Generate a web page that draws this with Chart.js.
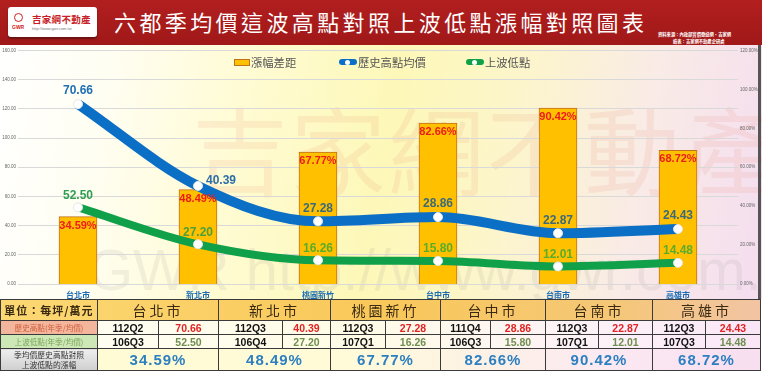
<!DOCTYPE html>
<html>
<head>
<meta charset="utf-8">
<script src="https://cdn.jsdelivr.net/npm/chart.js@4.4.1/dist/chart.umd.min.js"></script>
<style>
  body { margin: 0; width: 762px; height: 372px; overflow: hidden; background: #fff; position: relative;
         font-family: "Noto Sans CJK TC", "Noto Sans", sans-serif; }
  .header { position: absolute; left: 0; top: 0; width: 762px; height: 45px;
            background: linear-gradient(#b21f1f, #a01818); }
  .logo { position: absolute; left: 8px; top: 7px; width: 89px; height: 30px; background: #fff;
          border-radius: 3px; box-shadow: 0 2px 2px rgba(0,0,0,0.35); }
  .logo .icon { position: absolute; left: 6px; top: 6px; width: 9px; height: 9px; border-radius: 50%;
                border: 1.5px solid #d02020; box-sizing: border-box; }
  .logo .gwr { position: absolute; left: 4px; top: 17px; font: bold 5px "Liberation Sans", sans-serif; color: #d02020; }
  .logo .name { position: absolute; left: 24px; top: 5px; font-size: 9.5px; font-weight: bold; color: #c81e28; letter-spacing: 0.3px; }
  .logo .url { position: absolute; left: 24px; top: 19px; font: 4px "Liberation Sans", sans-serif; color: #777; }
  .title { position: absolute; left: 114px; top: 6px; font-size: 22px; line-height: 30px; color: #fff;
           letter-spacing: 3.4px; white-space: nowrap; }
  .credit { position: absolute; color: #fff; font-size: 4.3px; font-weight: bold; white-space: nowrap; line-height: 5px; }
  .plot { position: absolute; left: 0; top: 45px; width: 762px; height: 254px;
          background: linear-gradient(100deg, #ffffff 0%, #fffef2 14%, #fffbd2 32%, #fdf8b8 50%, #fcf5cc 66%, #f9ebe6 82%, #f4ddf0 100%); }
  .wm { position: absolute; white-space: nowrap; }
  .wm1 { left: 192px; top: 92px; font-size: 96px; line-height: 110px; color: rgba(222, 110, 80, 0.10); letter-spacing: 2px; }
  .wm2 { left: 88px; top: 236px; font: 58px "Liberation Sans", sans-serif; color: rgba(140, 140, 140, 0.12); }
  canvas { position: absolute; left: 0; top: 45px; }
  .legend { position: absolute; top: 55px; left: 0; width: 762px; height: 14px; font-size: 11.3px; color: #555; }
  .legend span { position: absolute; top: 0; line-height: 14px; white-space: nowrap; }
  .legend .box { position: absolute; top: 4px; width: 14px; height: 5px; background: #ffc000; border: 1px solid #c0721c; }
  .legend .ln { position: absolute; top: 4px; height: 6px; border-radius: 3px; }
  .legend .dot { position: absolute; top: 0.5px; left: 6px; width: 5px; height: 5px; border-radius: 50%; background: #fff; }
  .edge { position: absolute; left: 758px; top: 45px; width: 3px; height: 254px; background: #555; }
  table { position: absolute; left: 0; top: 299px; width: 760px; border-collapse: collapse; table-layout: fixed; }
  td { border: 1px solid #3a3a3a; padding: 0; text-align: center; overflow: hidden; white-space: nowrap; }
  tr.head { height: 19px; background: linear-gradient(90deg, #fcd873, #f9c85a 50%, #f5c776 80%, #f2c4a4); }
  tr.head td { font-size: 14px; letter-spacing: 3px; color: #3b2a12; }
  tr.head td.unit { font-size: 11px; letter-spacing: 1px; font-weight: bold; }
  tr.hi, tr.lo { height: 14px; background: linear-gradient(90deg, #fffef5, #fffce6 45%, #fdf1f8 80%, #fae6f6); }
  tr.hi td, tr.lo td { font: bold 10.5px "Liberation Sans", Arial, sans-serif; color: #111; line-height: 12px; }
  tr.hi td.lab { background: #f3b59c; color: #cf5f3c; font: 7.6px "Noto Sans CJK TC", sans-serif; }
  tr.lo td.lab { background: #cde7b6; color: #7aa65c; font: 7.6px "Noto Sans CJK TC", sans-serif; }
  tr.hi td.v { color: #e02424; }
  tr.lo td.v { color: #6f8f50; }
  tr.pct { height: 22px; background: linear-gradient(90deg, #fffbd2, #fffbd8 45%, #fbe9f2 80%, #f8def0); }
  tr.pct td { font: bold 15px "Liberation Sans", Arial, sans-serif; color: #2c7fc0; letter-spacing: 1px; }
  tr.pct td.lab { background: linear-gradient(#eeeeee, #cfcfcf); color: #333; font: 7.8px "Noto Sans CJK TC", sans-serif;
                  line-height: 10px; white-space: normal; letter-spacing: 0; }
</style>
</head>
<body>
<div class="header">
  <div class="logo">
    <div class="icon"></div><div class="gwr">GWR</div>
    <div class="name">吉家網不動產</div>
    <div class="url">http://www.gwr.com.tw</div>
  </div>
  <div class="title">六都季均價這波高點對照上波低點漲幅對照圖表</div>
  <div class="credit" style="left:658px; top:32px;">資料來源：內政部實價登錄網、吉家網</div>
  <div class="credit" style="left:673px; top:39px;">繪表：吉家網不動產企研處</div>
</div>
<div class="plot"></div>
<div class="wm wm1">吉家網不動產</div>
<div class="wm wm2">GWR http://www.gwr.com.tw</div>
<canvas id="chart" width="762" height="255"></canvas>
<div class="legend">
  <div class="box" style="left:234px;"></div><span style="left:251px;">漲幅差距</span>
  <div class="ln" style="left:339px; width:18px; background:#0b6fc5;"><div class="dot"></div></div><span style="left:358px;">歷史高點均價</span>
  <div class="ln" style="left:466px; width:18px; background:#10a04a;"><div class="dot"></div></div><span style="left:485px;">上波低點</span>
</div>
<div class="edge"></div>
<table id="summary"></table>

<script>
// 六都資料（萬元/坪）
const cities = ['台北市', '新北市', '桃園新竹', '台中市', '台南市', '高雄市'];
const highPrice = [70.66, 40.39, 27.28, 28.86, 22.87, 24.43];
const lowPrice = [52.50, 27.20, 16.26, 15.80, 12.01, 14.48];
const riseRate = [34.59, 48.49, 67.77, 82.66, 90.42, 68.72];
const highQuarter = ['112Q2', '112Q3', '112Q3', '111Q4', '112Q3', '112Q3'];
const lowQuarter = ['106Q3', '106Q4', '107Q1', '106Q3', '107Q1', '107Q3'];
const priceTicks = [0, 20, 40, 60, 80, 100, 120, 140, 160];
const rateTicks = [0, 20, 40, 60, 80, 100, 120];

// label colours
const highLabelColors = ['#1f6fb5', '#2b6fa8', '#3a6a7c', '#3a6a7c', '#3a6a7c', '#3a6a7c'];
const lowLabelColors = ['#2f9e52', '#4f9f3a', '#5aac2c', '#5aac2c', '#5aac2c', '#5aac2c'];

// Draw value labels on bars and points
const valueLabels = {
  id: 'valueLabels',
  afterDatasetsDraw(chart) {
    const ctx = chart.ctx;
    ctx.save();
    ctx.textAlign = 'center';
    ctx.textBaseline = 'middle';

    ctx.font = 'bold 11px "Liberation Sans", Arial, sans-serif';
    ctx.fillStyle = '#ec1c1c';
    chart.getDatasetMeta(0).data.forEach((bar, i) => {
      ctx.fillText(riseRate[i].toFixed(2) + '%', bar.x, bar.y + 9);
    });

    ctx.font = 'bold 12px "Liberation Sans", Arial, sans-serif';
    chart.getDatasetMeta(1).data.forEach((pt, i) => {
      ctx.fillStyle = highLabelColors[i];
      if (i === 1) ctx.fillText(highPrice[i].toFixed(2), pt.x + 23, pt.y - 5);
      else ctx.fillText(highPrice[i].toFixed(2), pt.x, pt.y - 13);
    });

    chart.getDatasetMeta(2).data.forEach((pt, i) => {
      ctx.fillStyle = lowLabelColors[i];
      ctx.fillText(lowPrice[i].toFixed(2), pt.x, pt.y - 12);
    });
    ctx.restore();
  }
};

const tickFont = { size: 4.5, family: '"Liberation Sans", Arial, sans-serif' };

new Chart(document.getElementById('chart'), {
  type: 'bar',
  data: {
    labels: cities,
    datasets: [
      {
        type: 'bar',
        label: '漲幅差距',
        data: riseRate,
        yAxisID: 'y1',
        backgroundColor: '#ffc000',
        borderColor: '#c0721c',
        borderWidth: 1,
        barThickness: 38,
        order: 3
      },
      {
        type: 'line',
        label: '歷史高點均價',
        data: highPrice,
        yAxisID: 'yHigh',
        borderColor: '#0b6fc5',
        borderWidth: 10,
        cubicInterpolationMode: 'monotone',
        pointRadius: 4.5,
        pointBackgroundColor: '#ffffff',
        pointBorderColor: '#e6e6e6',
        pointBorderWidth: 1,
        order: 2
      },
      {
        type: 'line',
        label: '上波低點',
        data: lowPrice,
        yAxisID: 'y',
        borderColor: '#10a04a',
        borderWidth: 8,
        cubicInterpolationMode: 'monotone',
        pointRadius: 4.5,
        pointBackgroundColor: '#ffffff',
        pointBorderColor: '#e6e6e6',
        pointBorderWidth: 1,
        order: 1
      }
    ]
  },
  options: {
    responsive: false,
    animation: false,
    layout: { padding: { top: 4, left: 0, right: 0, bottom: 0 } },
    plugins: {
      legend: { display: false },
      tooltip: { enabled: false }
    },
    scales: {
      x: {
        grid: { display: false, drawTicks: false },
        border: { display: false },
        ticks: {
          color: '#1a6db5',
          padding: 6,
          font: { size: 8, weight: 'bold', family: '"Noto Sans CJK TC", sans-serif' }
        },
        afterFit(scale) { scale.height = 16; }
      },
      y: {
        position: 'left',
        min: priceTicks[0],
        max: priceTicks[priceTicks.length - 1],
        afterBuildTicks(scale) { scale.ticks = priceTicks.map(v => ({ value: v })); },
        ticks: { color: '#666', padding: 2, font: tickFont, callback: v => v.toFixed(2) },
        grid: { color: '#d9d9d9', drawTicks: false },
        border: { display: false },
        afterFit(scale) { scale.width = 18; }
      },
      y1: {
        position: 'right',
        min: rateTicks[0],
        max: rateTicks[rateTicks.length - 1],
        afterBuildTicks(scale) { scale.ticks = rateTicks.map(v => ({ value: v })); },
        ticks: { color: '#666', padding: 2, font: tickFont, callback: v => v.toFixed(2) + '%' },
        grid: { display: false, drawTicks: false },
        border: { display: false },
        afterFit(scale) { scale.width = 24; }
      },
      yHigh: {
        display: false,
        min: 4.1,
        max: 90.5
      }
    }
  },
  plugins: [valueLabels]
});

// Summary table under the chart
function buildTable() {
  const table = document.getElementById('summary');
  const widths = [97, 61, 60, 64, 48, 55, 55, 50, 55, 53, 54, 53, 55];
  let html = '<colgroup>' + widths.map(w => `<col style="width:${w}px">`).join('') + '</colgroup>';

  html += '<tr class="head"><td class="unit">單位：每坪/萬元</td>';
  html += cities.map(c => `<td colspan="2">${c}</td>`).join('') + '</tr>';

  html += '<tr class="hi"><td class="lab">歷史高點(年季/均價)</td>';
  html += cities.map((c, i) => `<td>${highQuarter[i]}</td><td class="v">${highPrice[i].toFixed(2)}</td>`).join('') + '</tr>';

  html += '<tr class="lo"><td class="lab">上波低點(年季/均價)</td>';
  html += cities.map((c, i) => `<td>${lowQuarter[i]}</td><td class="v">${lowPrice[i].toFixed(2)}</td>`).join('') + '</tr>';

  html += '<tr class="pct"><td class="lab">季均價歷史高點對照<br>上波低點的漲幅</td>';
  html += cities.map((c, i) => `<td colspan="2">${riseRate[i].toFixed(2)}%</td>`).join('') + '</tr>';

  table.innerHTML = html;
}

buildTable();
</script>
</body>
</html>
